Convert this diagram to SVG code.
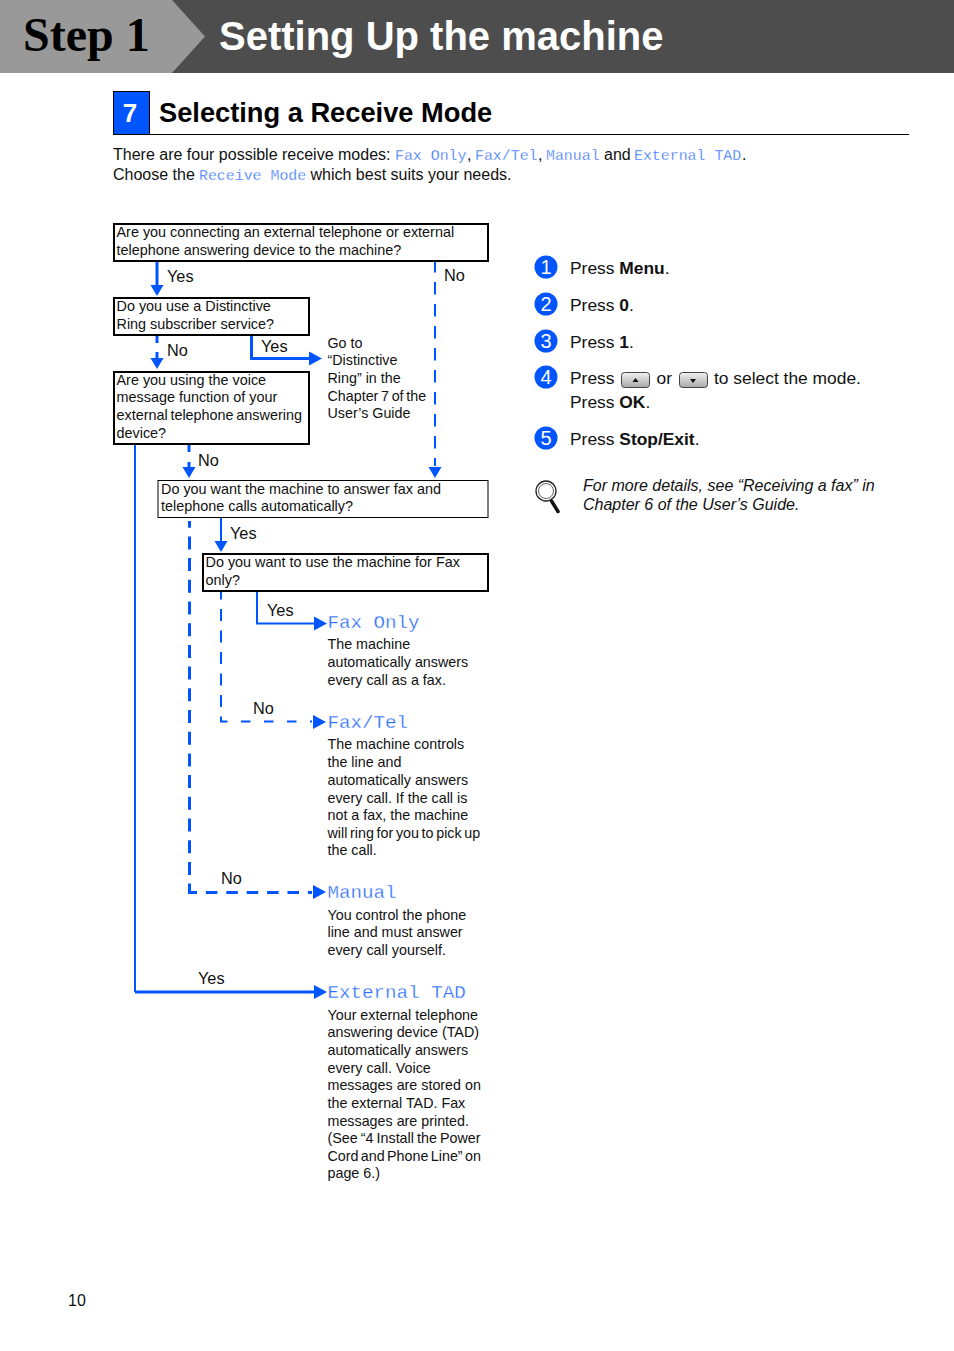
<svg xmlns="http://www.w3.org/2000/svg" width="954" height="1351" viewBox="0 0 954 1351">
<style>
text{font-family:"Liberation Sans",Arial,sans-serif;fill:#111}
.q{font-size:14.4px}
.l{font-size:16.300px}
.d{font-size:14.3px}
.s{font-size:17.400px}
.t{font-size:16px}
.b{font-weight:bold}
.m{font-family:"Liberation Mono",monospace;fill:#2a6cff;stroke:#fff;stroke-width:.3px}
.m1{font-size:19.200px}
.m2{font-size:14.900px}
.box{fill:#fff;stroke:#000}
.so{fill:none;stroke:#0055ff;stroke-width:3}
.sn{fill:none;stroke:#0055ff;stroke-width:2}
.h{fill:#0055ff}
.c{fill:#0055ff}
.n{font-size:20px;fill:#fff;text-anchor:middle}
.tight{word-spacing:-1.300px}
</style>
<defs>
<linearGradient id="g" x1="0" y1="0" x2="0" y2="1"><stop offset="0" stop-color="#f2f2f2"/><stop offset="1" stop-color="#a8a8a8"/></linearGradient>
<path id="dnh" class="h" d="M-6.500 0H6.500L0 11z"/>
<path id="rh" class="h" d="M0 -7V7L13 0z"/>
</defs>
<rect width="954" height="73" fill="#4d4d4d"/>
<path d="M0 0H172L205 36.500L172 73H0z" fill="#999"/>
<text x="23" y="51" style="font-family:'Liberation Serif',serif;font-size:48px;font-weight:bold;fill:#000">Step 1</text>
<text x="219" y="50" class="b" style="font-size:40px;fill:#fff">Setting Up the machine</text>
<g id="section">
<rect x="113.500" y="91.500" width="36" height="43" fill="#0055ff" stroke="#000"/>
<text x="130" y="122" class="b" text-anchor="middle" style="font-size:26px;fill:#fff">7</text>
<text x="159" y="121.500" class="b" style="font-size:27.250px;fill:#000">Selecting a Receive Mode</text>
<path d="M113 134.500H909" stroke="#000" fill="none"/>
</g>
<text x="113" y="160" class="t">There are four possible receive modes:</text>
<text x="395" y="160" class="m m2">Fax Only</text><text x="467" y="160" class="t">,</text>
<text x="475" y="160" class="m m2">Fax/Tel</text><text x="538" y="160" class="t">,</text>
<text x="546" y="160" class="m m2">Manual</text><text x="604" y="160" class="t">and</text>
<text x="634" y="160" class="m m2">External TAD</text><text x="742" y="160" class="t">.</text>
<text x="113" y="180" class="t">Choose the</text>
<text x="199" y="180" class="m m2">Receive Mode</text>
<text x="310.500" y="180" class="t">which best suits your needs.</text>
<g id="connectors">
<path class="so" d="M157 262V285"/><use href="#dnh" x="157" y="285"/>
<path class="sn" d="M435 262V466" stroke-dasharray="12.500 9.500" stroke-dashoffset="2"/><use href="#dnh" x="435" y="467"/>
<path class="so" d="M157 336V343M157 352V358"/><use href="#dnh" x="157" y="358"/>
<path class="so" d="M251.500 336V358.500H310"/><use href="#rh" x="309" y="358.500"/>
<path class="so" d="M189 445V452M189 462V468"/><use href="#dnh" x="189" y="467"/>
<path class="sn" d="M135 445V992"/>
<path class="so" d="M189.500 521V893" stroke-dasharray="13 8.700" stroke-dashoffset="6.300"/>
<path class="so" d="M188 892.500H312" stroke-dasharray="11.500 8.900" stroke-dashoffset="2.500"/><use href="#rh" x="313" y="892"/>
<path class="so" d="M135 992H314"/><use href="#rh" x="314" y="992"/>
<path class="sn" d="M221 518V541"/><use href="#dnh" x="221" y="541"/>
<path class="sn" d="M221 592V721" stroke-dasharray="12 9.500" stroke-dashoffset="4.500"/>
<path class="sn" d="M220 721.500H312" stroke-dasharray="9.500 13.500" stroke-dashoffset="2"/><use href="#rh" x="313" y="722"/>
<path class="sn" d="M257 592V623.500H314"/><use href="#rh" x="314" y="623.500"/>
</g>
<g id="q1"><rect class="box" x="114" y="224" width="374" height="37" style="stroke-width:2"/><text class="q" x="116.500" y="237">Are you connecting an external telephone or external</text><text class="q" x="116.500" y="255">telephone answering device to the machine?</text></g>
<g id="q2"><rect class="box" x="114" y="298" width="195" height="37" style="stroke-width:2"/><text class="q" x="116.500" y="311">Do you use a Distinctive</text><text class="q" x="116.500" y="329">Ring subscriber service?</text></g>
<g id="q3"><rect class="box" x="114" y="372" width="195" height="72" style="stroke-width:2"/><text class="q" x="116.500" y="385">Are you using the voice</text><text class="q" x="116.500" y="402">message function of your</text><text class="q tight" x="116.500" y="420">external telephone answering</text><text class="q" x="116.500" y="438">device?</text></g>
<g id="q4"><rect class="box" x="158" y="480.500" width="330" height="37"/><text class="q" x="161" y="494">Do you want the machine to answer fax and</text><text class="q" x="161" y="511">telephone calls automatically?</text></g>
<g id="q5"><rect class="box" x="203" y="554" width="285" height="37" style="stroke-width:2"/><text class="q" x="205.500" y="567">Do you want to use the machine for Fax</text><text class="q" x="205.500" y="585">only?</text></g>
<g id="labels">
<text class="l" x="167" y="282">Yes</text><text class="l" x="444" y="281">No</text>
<text class="l" x="167" y="356">No</text><text class="l" x="261" y="352">Yes</text>
<text class="l" x="198" y="466">No</text><text class="l" x="230" y="539">Yes</text>
<text class="l" x="267" y="616">Yes</text><text class="l" x="253" y="714">No</text>
<text class="l" x="221" y="884">No</text><text class="l" x="198" y="984">Yes</text>
</g>
<g id="goto"><text class="d" x="327.500" y="348">Go to</text><text class="d" x="327.500" y="365">“Distinctive</text><text class="d" x="327.500" y="383">Ring” in the</text><text class="d tight" x="327.500" y="401">Chapter 7 of the</text><text class="d" x="327.500" y="418">User’s Guide</text></g>
<g id="faxonly"><text class="m m1" x="327.500" y="628">Fax Only</text><text class="d" x="327.500" y="649">The machine</text><text class="d" x="327.500" y="667">automatically answers</text><text class="d" x="327.500" y="685">every call as a fax.</text></g>
<g id="faxtel"><text class="m m1" x="327.500" y="728">Fax/Tel</text><text class="d" x="327.500" y="749">The machine controls</text><text class="d" x="327.500" y="767">the line and</text><text class="d" x="327.500" y="785">automatically answers</text><text class="d" x="327.500" y="803">every call. If the call is</text><text class="d" x="327.500" y="820">not a fax, the machine</text><text class="d tight" x="327.500" y="838">will ring for you to pick up</text><text class="d" x="327.500" y="855">the call.</text></g>
<g id="manual"><text class="m m1" x="327.500" y="898">Manual</text><text class="d" x="327.500" y="920">You control the phone</text><text class="d" x="327.500" y="937">line and must answer</text><text class="d" x="327.500" y="955">every call yourself.</text></g>
<g id="tad"><text class="m m1" x="327.500" y="998">External TAD</text><text class="d" x="327.500" y="1020">Your external telephone</text><text class="d" x="327.500" y="1037">answering device (TAD)</text><text class="d" x="327.500" y="1055">automatically answers</text><text class="d" x="327.500" y="1073">every call. Voice</text><text class="d" x="327.500" y="1090">messages are stored on</text><text class="d" x="327.500" y="1108">the external TAD. Fax</text><text class="d" x="327.500" y="1126">messages are printed.</text><text class="d" x="327.500" y="1143" style="word-spacing:-.9px">(See “4 Install the Power</text><text class="d" x="327.500" y="1161" style="word-spacing:-1.600px">Cord and Phone Line” on</text><text class="d" x="327.500" y="1178">page 6.)</text></g>
<g id="step1"><circle class="c" cx="546" cy="267" r="11.500"/><text class="n" x="546" y="274">1</text><text class="s" x="570" y="274">Press <tspan class="b">Menu</tspan>.</text></g>
<g id="step2"><circle class="c" cx="546" cy="304" r="11.500"/><text class="n" x="546" y="311">2</text><text class="s" x="570" y="311">Press <tspan class="b">0</tspan>.</text></g>
<g id="step3"><circle class="c" cx="546" cy="341" r="11.500"/><text class="n" x="546" y="348">3</text><text class="s" x="570" y="348">Press <tspan class="b">1</tspan>.</text></g>
<g id="step4"><circle class="c" cx="546" cy="377" r="11.500"/><text class="n" x="546" y="384">4</text><text class="s" x="570" y="384">Press</text>
<rect x="621.500" y="372.500" width="28" height="15" rx="3" fill="url(#g)" stroke="#444"/><path d="M632.500 382H638.500L635.500 378z" fill="#111"/>
<text class="s" x="656.500" y="384">or</text>
<rect x="679.500" y="372.500" width="28" height="15" rx="3" fill="url(#g)" stroke="#444"/><path d="M690 379H696L693 383z" fill="#111"/>
<text class="s" x="714" y="384">to select the mode.</text><text class="s" x="570" y="408">Press <tspan class="b">OK</tspan>.</text></g>
<g id="step5"><circle class="c" cx="546" cy="438" r="11.500"/><text class="n" x="546" y="445">5</text><text class="s" x="570" y="445">Press <tspan class="b">Stop/Exit</tspan>.</text></g>
<g id="note">
<circle cx="546" cy="491" r="10" fill="#fff" stroke="#222" stroke-width="1.300"/><circle cx="546" cy="491" r="7.500" fill="none" stroke="#666"/>
<path d="M551.500 501L558 511.500" stroke="#111" stroke-width="3.500" stroke-linecap="round"/>
<text x="583" y="491" style="font-size:16px;font-style:italic">For more details, see “Receiving a fax” in</text>
<text x="583" y="510" style="font-size:16px;font-style:italic">Chapter 6 of the User’s Guide.</text>
</g>
<text x="68" y="1306" style="font-size:16px">10</text>
</svg>
